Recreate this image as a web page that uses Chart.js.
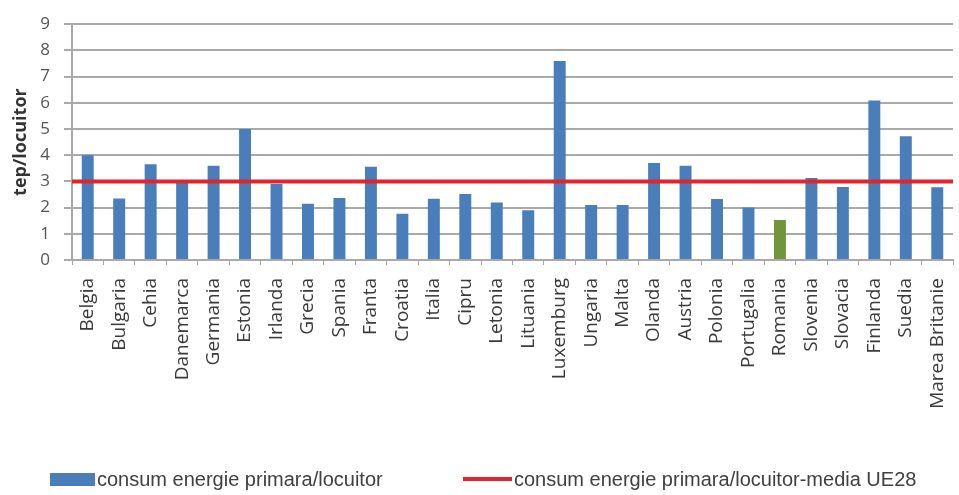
<!DOCTYPE html>
<html>
<head>
<meta charset="utf-8">
<script src="https://cdn.jsdelivr.net/npm/chart.js@4/dist/chart.umd.min.js"></script>
<style>
html,body{margin:0;padding:0;background:#fff;}
#wrap{width:959px;height:495px;position:relative;overflow:hidden;}
#legend{position:absolute;left:0;top:469px;width:959px;height:20px;}
.li{position:absolute;top:0;height:20px;display:flex;align-items:center;white-space:nowrap;
    font-family:'Liberation Sans',sans-serif;font-size:20px;color:#404040;}
.sw{display:inline-block;margin-right:2px;}
</style>
</head>
<body>
<div id="wrap"><canvas id="c" width="959" height="495"></canvas><div id="legend"></div></div>
<script>
const categories = ["Belgia","Bulgaria","Cehia","Danemarca","Germania","Estonia","Irlanda","Grecia","Spania","Franta","Croatia","Italia","Cipru","Letonia","Lituania","Luxemburg","Ungaria","Malta","Olanda","Austria","Polonia","Portugalia","Romania","Slovenia","Slovacia","Finlanda","Suedia","Marea Britanie"];
const consumPerLocuitor = [4.0,2.35,3.65,2.97,3.6,5.0,2.9,2.15,2.37,3.56,1.77,2.34,2.52,2.19,1.9,7.6,2.1,2.1,3.7,3.6,2.33,2.0,1.53,3.13,2.79,6.09,4.72,2.78];
const mediaUE28 = 3.0;
const yTicks = [0,1,2,3,4,5,6,7,8,9];
const highlighted = "Romania";

const blue = '#4a7ebb', green = '#71953b', red = '#e0252c';
const gridCol = '#a9a9a9';

// HTML legend built from the chart's own legend items
const legendLeft = [50, 463];
const htmlLegend = {
  id: 'htmlLegend',
  afterUpdate(chart) {
    const box = document.getElementById('legend');
    box.innerHTML = '';
    const items = chart.options.plugins.legend.labels.generateLabels(chart)
      .sort((a, b) => a.datasetIndex - b.datasetIndex);
    items.forEach((it, i) => {
      const ds = chart.data.datasets[it.datasetIndex];
      const li = document.createElement('div');
      li.className = 'li';
      li.style.left = legendLeft[i] + 'px';
      const sw = document.createElement('span');
      sw.className = 'sw';
      if (ds.type === 'line') {
        sw.style.width = '49px'; sw.style.height = '4px'; sw.style.background = ds.borderColor;
      } else {
        sw.style.width = '45px'; sw.style.height = '13px'; sw.style.background = blue;
      }
      const tx = document.createElement('span');
      tx.textContent = it.text;
      li.appendChild(sw); li.appendChild(tx);
      box.appendChild(li);
    });
  }
};

new Chart(document.getElementById('c'), {
  type: 'bar',
  data: {
    labels: categories,
    datasets: [
      {
        label: 'consum energie primara/locuitor',
        data: consumPerLocuitor,
        backgroundColor: categories.map(c => c === highlighted ? green : blue),
        borderWidth: 0,
        grouped: false,
        barPercentage: 0.38,
        categoryPercentage: 1.0,
        order: 1
      },
      {
        type: 'line',
        label: 'consum energie primara/locuitor-media UE28',
        data: [{x: 0, y: mediaUE28}, {x: 1, y: mediaUE28}],
        xAxisID: 'x2',
        borderColor: red,
        backgroundColor: red,
        borderWidth: 4,
        pointRadius: 0,
        fill: false,
        order: 0
      }
    ]
  },
  plugins: [htmlLegend],
  options: {
    responsive: false,
    animation: false,
    devicePixelRatio: 1,
    layout: { padding: { left: 7, right: 6, top: 20, bottom: 55 } },
    plugins: {
      tooltip: { enabled: false },
      legend: { display: false }
    },
    scales: {
      x: {
        type: 'category',
        offset: true,
        grid: { display: true, drawOnChartArea: false, drawTicks: true, tickLength: 5, color: gridCol, offset: true },
        border: { display: true, color: gridCol, width: 2 },
        ticks: {
          autoSkip: false, minRotation: 90, maxRotation: 90, padding: 13,
          color: '#3a3a3a',
          font: { family: "'Open Sans', sans-serif", size: 19 }
        },
        afterFit: s => { s.height = 180; s.paddingLeft = 0; s.paddingRight = 0; }
      },
      x2: {
        type: 'linear', min: 0, max: 1, display: false, offset: false
      },
      y: {
        min: 0, max: 9,
        afterBuildTicks: s => { s.ticks = yTicks.map(v => ({ value: v })); },
        grid: { color: gridCol, lineWidth: 2, tickLength: 8, drawTicks: true },
        border: { display: true, color: gridCol, width: 2 },
        ticks: { padding: 14, color: '#555', font: { family: "'Open Sans', sans-serif", size: 17 } },
        title: {
          display: true, text: 'tep/locuitor', color: '#333',
          padding: { top: 3, bottom: 0 },
          font: { family: "'Open Sans', sans-serif", size: 18, weight: 'bold' }
        },
        afterFit: s => { s.width = 65; }
      }
    }
  }
});
</script>
</body>
</html>
